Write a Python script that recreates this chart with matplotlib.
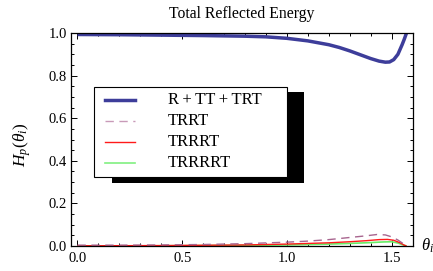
import matplotlib
matplotlib.use("Agg")
import numpy as np
import matplotlib.pyplot as plt
from matplotlib.patches import Rectangle
from matplotlib.lines import Line2D
from matplotlib.ticker import MultipleLocator

plt.rcParams["font.family"] = ["Liberation Serif", "DejaVu Serif"]
plt.rcParams["mathtext.fontset"] = "custom"
plt.rcParams["mathtext.it"] = "Liberation Serif:italic"
plt.rcParams["mathtext.rm"] = "Liberation Serif"

# --- data ---
x_total = [0.0, 0.2, 0.4, 0.6, 0.8, 0.9, 1.0, 1.1, 1.2, 1.25, 1.3, 1.35, 1.4,
           1.44, 1.47, 1.49, 1.51, 1.53, 1.55, 1.56, 1.571]
y_total = [0.993, 0.992, 0.99, 0.988, 0.985, 0.982, 0.975, 0.963, 0.945, 0.932,
           0.916, 0.898, 0.88, 0.868, 0.863, 0.864, 0.875, 0.9, 0.945, 0.97, 1.0]

x_trrt = [0.0, 0.2, 0.4, 0.6, 0.8, 1.0, 1.1, 1.2, 1.3, 1.38, 1.43, 1.47, 1.5,
          1.53, 1.56, 1.571]
y_trrt = [0.004, 0.004, 0.005, 0.007, 0.011, 0.018, 0.023, 0.03, 0.04, 0.048,
          0.054, 0.052, 0.043, 0.028, 0.008, 0.0]

x_trrrt = [0.0, 0.4, 0.8, 1.0, 1.2, 1.3, 1.38, 1.44, 1.48, 1.51, 1.54, 1.56, 1.571]
y_trrrt = [0.001, 0.002, 0.005, 0.009, 0.015, 0.02, 0.025, 0.03, 0.031, 0.027,
           0.015, 0.004, 0.0]

x_trrrrt = [0.0, 0.4, 0.8, 1.0, 1.2, 1.3, 1.4, 1.46, 1.5, 1.53, 1.56, 1.571]
y_trrrrt = [0.0, 0.001, 0.003, 0.005, 0.009, 0.012, 0.016, 0.019, 0.02, 0.014,
            0.003, 0.0]

labels = ["R\u2009+\u2009TT\u2009+\u2009TRT", "TRRT", "TRRRT", "TRRRRT"]
colors = ["#3d3d9a", "#a8658f", "#ff1a1a", "#66ee66"]
legend_colors = ["#3d3d9a", "#c89ab8", "#ff1a1a", "#80f080"]
widths = [2.5, 1.0, 1.0, 1.2]
styles = ["-", (0, (6, 4)), "-", "-"]

W, H = 433, 271
fig = plt.figure(figsize=(W / 100, H / 100), dpi=100)
ax = fig.add_axes([71 / W, 1 - 246 / H, (413 - 71) / W, (246 - 33) / H])

series = [(x_total, y_total), (x_trrt, y_trrt), (x_trrrt, y_trrrt), (x_trrrrt, y_trrrrt)]
for i in [3, 2, 1, 0]:
    xs, ys = series[i]
    ax.plot(xs, ys, color=colors[i], lw=widths[i], linestyle=styles[i],
            solid_capstyle="butt", clip_on=True)

ax.set_xlim(-0.031, 1.602)
ax.set_ylim(0, 1)
ax.xaxis.set_major_locator(MultipleLocator(0.5))
ax.xaxis.set_minor_locator(MultipleLocator(0.1))
ax.yaxis.set_major_locator(MultipleLocator(0.2))
ax.yaxis.set_minor_locator(MultipleLocator(0.05))
ax.tick_params(which="both", direction="in", top=True, right=True,
               labelsize=10.5, width=0.7, colors="black")
ax.tick_params(axis="x", pad=4)
ax.tick_params(axis="y", pad=3)
ax.tick_params(which="major", length=4)
ax.tick_params(which="minor", length=2)
ax.set_xticklabels([f"{v:.1f}" for v in ax.get_xticks()])
ax.set_yticklabels([f"{v:.1f}" for v in ax.get_yticks()])
for s in ax.spines.values():
    s.set_linewidth(0.9)

fig.text(242 / W, 1 - 14 / H, "Total Reflected Energy", ha="center", va="center",
         fontsize=11.3)
fig.text(22 / W, 1 - 145 / H, r"$H_p(\theta_i)$", rotation=90, ha="center",
         va="center", fontsize=12.5)
fig.text(421 / W, 1 - 246 / H, r"$\theta_i$", ha="left", va="center", fontsize=12)

# --- hand-made legend with hard shadow ---
def fx(px):
    return px / W


def fy(py):
    return 1 - py / H


fig.patches.append(Rectangle((fx(112), fy(183)), fx(304) - fx(112), fy(92) - fy(183),
                             transform=fig.transFigure, facecolor="black",
                             edgecolor="none", zorder=5))
fig.patches.append(Rectangle((fx(94), fy(177)), fx(287) - fx(94), fy(87) - fy(177),
                             transform=fig.transFigure, facecolor="white",
                             edgecolor="black", lw=0.8, zorder=6))
rows = [100, 121, 142, 163]
for i, py in enumerate(rows):
    fig.lines.append(Line2D([fx(105), fx(135)], [fy(py), fy(py)],
                            transform=fig.transFigure, color=legend_colors[i],
                            lw=widths[i], linestyle=styles[i], zorder=7))
    fig.text(fx(168), fy(py), labels[i], ha="left", va="center", fontsize=12,
             zorder=8)

fig.savefig("out.png", dpi=100)
